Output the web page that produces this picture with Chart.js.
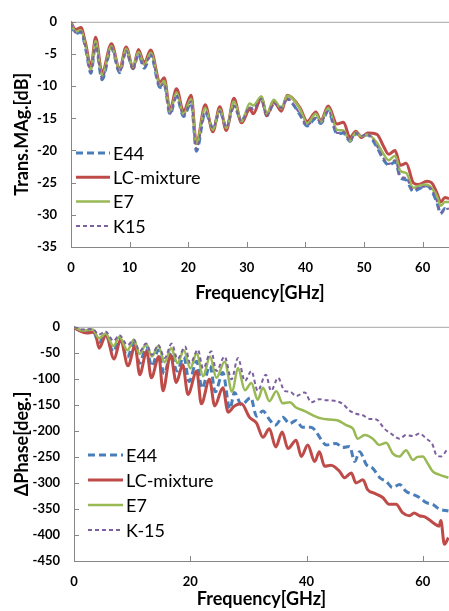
<!DOCTYPE html>
<html>
<head>
<meta charset="utf-8">
<script src="https://cdn.jsdelivr.net/npm/chart.js@4.4.1/dist/chart.umd.min.js"></script>
<style>
  body { margin: 0; background: #fff; }
  canvas { display: block; }
</style>
</head>
<body>
<canvas id="magChart" width="449" height="305"></canvas>
<canvas id="phaseChart" width="449" height="306"></canvas>
<script>
// ---- top panel: transmission magnitude [dB] ----
const freqMag = [0, 0.8, 1.7, 2.5, 3.4, 4.2, 5.3, 6.9, 8.3, 9.4,
  10.6, 11.5, 12.5, 13.6, 15.2, 15.9, 16.9, 18.0, 19.2, 20.5,
  21.4, 22.9, 24.2, 25.4, 26.5, 27.8, 29.1, 30.5, 31.1, 32.5,
  33.4, 34.6, 35.9, 36.9, 37.7, 39.1, 40.3, 41.8, 42.6, 43.9,
  45.4, 46.5, 47.6, 48.6, 49.6, 50.6, 52.2, 53.3, 54.2, 55.3,
  56.2, 57.2, 58.4, 59.3, 60.7, 61.5, 62.4, 63.1, 63.8, 64.5];

const magE44 = [-0.4, -1.8, -1.6, -4.2, -8.0, -3.6, -9.0, -4.1, -7.9, -4.6,
  -7.3, -5.1, -7.2, -5.2, -10.2, -9.8, -14.4, -11.6, -14.7, -12.6,
  -20.1, -14.1, -16.4, -14.0, -16.3, -13.2, -15.3, -13.4, -13.6, -12.1,
  -14.6, -12.8, -13.3, -12.0, -12.6, -14.5, -16.2, -15.0, -15.8, -13.9,
  -17.4, -17.3, -18.6, -17.4, -17.6, -17.6, -19.5, -21.4, -22.3, -21.8,
  -24.2, -24.6, -26.4, -26.0, -25.5, -26.2, -28.0, -29.8, -29.0, -29.3];
const magLC = [-0.1, -1.2, -0.9, -3.4, -7.0, -2.4, -7.9, -3.4, -7.4, -3.9,
  -7.2, -4.3, -6.4, -4.4, -9.4, -8.7, -13.7, -10.4, -13.9, -11.4,
  -18.9, -12.9, -17.1, -13.2, -16.9, -11.9, -15.7, -13.6, -14.3, -11.7,
  -14.6, -12.3, -13.9, -11.4, -11.8, -13.4, -15.5, -14.0, -15.4, -13.1,
  -15.9, -15.6, -18.0, -17.0, -18.0, -17.3, -17.5, -19.3, -20.6, -20.0,
  -22.3, -22.0, -25.0, -25.3, -24.8, -25.0, -26.5, -28.0, -27.3, -27.5];
const magE7 = [-0.2, -1.5, -1.3, -3.8, -7.5, -3.0, -8.3, -3.8, -7.5, -4.2,
  -7.0, -4.7, -6.7, -4.8, -9.8, -9.2, -14.0, -11.0, -14.4, -12.0,
  -19.0, -13.4, -16.8, -13.6, -16.5, -12.4, -15.5, -12.7, -13.0, -11.6,
  -14.3, -12.1, -13.5, -11.5, -11.8, -13.6, -15.8, -14.3, -15.6, -13.4,
  -16.8, -16.9, -18.5, -17.2, -17.8, -17.5, -18.8, -20.5, -21.5, -20.8,
  -23.2, -23.5, -25.8, -25.5, -25.3, -25.8, -27.0, -28.6, -28.0, -28.0];
const magK15 = [-0.3, -1.7, -1.5, -4.0, -7.8, -3.4, -8.8, -4.0, -7.8, -4.5,
  -7.2, -5.0, -7.0, -5.1, -10.1, -9.6, -14.3, -11.4, -14.6, -12.4,
  -19.8, -13.9, -16.5, -13.9, -16.4, -13.0, -15.4, -13.3, -13.6, -12.0,
  -14.6, -12.7, -13.4, -11.9, -12.5, -14.4, -16.1, -14.9, -15.7, -13.8,
  -17.3, -17.1, -18.5, -17.3, -17.7, -17.5, -19.3, -21.2, -22.1, -21.5,
  -24.0, -24.3, -26.2, -25.8, -25.6, -26.0, -27.8, -29.6, -29.2, -29.0];

const magXTicks = [0, 10, 20, 30, 40, 50, 60];
const magYTicks = [0, -5, -10, -15, -20, -25, -30, -35];
const magLabels = ['E44', 'LC-mixture', 'E7', 'K15'];

// ---- bottom panel: differential phase [deg.] ----
const freqE44 = [0, 1.5, 3.2, 4.3, 5.4, 6.8, 7.8, 9.2, 10.3, 11.3,
  12.4, 13.4, 14.5, 15.5, 16.7, 17.7, 18.9, 19.8, 21.1, 22.0,
  23.4, 24.3, 25.6, 26.8, 27.6, 28.8, 30.4, 31.4, 32.5, 33.6,
  34.6, 35.9, 37.1, 38.2, 39.3, 40.7, 41.5, 42.4, 43.4, 45.1,
  46.2, 47.4, 48.3, 49.1, 50.3, 51.4, 52.6, 53.7, 54.8, 56.0,
  57.1, 58.3, 59.4, 60.6, 61.7, 62.8, 64.4];
const phaseE44 = [-1, -9, -7, -30, -15, -48, -22, -58, -30, -70,
  -40, -76, -45, -90, -49, -85, -58, -105, -66, -118,
  -75, -125, -88, -158, -126, -150, -136, -172, -162, -178,
  -189, -174, -186, -180, -193, -193, -199, -215, -227, -224,
  -232, -230, -259, -240, -265, -272, -290, -297, -309, -303,
  -316, -322, -328, -338, -341, -350, -354];

const freqLC = [0, 2.2, 3.6, 4.3, 5.5, 6.9, 8.0, 9.3, 10.5, 11.3,
  12.5, 13.3, 14.6, 15.3, 16.6, 17.6, 18.7, 19.6, 21.1, 21.9,
  23.3, 24.2, 25.6, 26.5, 27.6, 28.8, 30.2, 31.4, 32.5, 33.6,
  34.7, 35.8, 36.8, 38.2, 39.1, 40.2, 41.4, 42.2, 43.1, 44.2,
  45.7, 46.5, 47.7, 48.5, 49.7, 50.5, 51.7, 53.1, 54.2, 55.4,
  56.5, 57.7, 58.5, 59.4, 60.5, 61.7, 62.8, 63.1, 63.7, 64.4];
const phaseLC = [-2, -12, -10, -41, -16, -62, -25, -75, -36, -92,
  -47, -98, -57, -123, -54, -107, -73, -130, -85, -148,
  -101, -152, -117, -164, -152, -148, -174, -185, -212, -196,
  -231, -202, -234, -218, -249, -227, -259, -240, -268, -266,
  -278, -290, -281, -300, -294, -313, -320, -328, -341, -341,
  -357, -363, -358, -363, -366, -376, -383, -372, -418, -405];

const freqE7 = [0, 1.5, 3.2, 4.3, 5.4, 6.8, 7.8, 9.2, 10.3, 11.3,
  12.4, 13.4, 14.5, 15.6, 16.7, 17.8, 18.9, 20.0, 21.1, 22.2,
  23.4, 24.5, 25.9, 27.2, 28.2, 29.4, 30.5, 31.6, 32.5, 33.6,
  34.8, 35.9, 37.1, 38.2, 39.7, 41.1, 42.5, 43.9, 45.4, 46.8,
  48.0, 48.8, 50.0, 51.4, 52.5, 53.7, 54.8, 56.0, 57.1, 58.3,
  59.1, 60.0, 60.8, 61.7, 62.8, 64.4];
const phaseE7 = [0, -7, -5, -22, -13, -37, -19, -45, -25, -52,
  -33, -57, -37, -68, -41, -70, -45, -80, -51, -95,
  -57, -98, -67, -125, -79, -122, -108, -140, -117, -143,
  -124, -147, -145, -155, -162, -170, -176, -178, -180, -189,
  -196, -215, -208, -215, -227, -223, -243, -249, -237, -256,
  -250, -249, -262, -278, -284, -290];

const freqK15 = [0, 1.5, 3.2, 4.3, 5.4, 6.8, 7.8, 9.2, 10.3, 11.3,
  12.4, 13.4, 14.5, 15.6, 16.8, 17.8, 19.1, 20.0, 21.3, 22.2,
  23.6, 24.5, 25.9, 27.1, 28.2, 29.4, 30.5, 31.6, 33.0, 33.9,
  35.1, 36.2, 37.2, 38.2, 39.7, 40.8, 42.2, 43.4, 44.8, 46.2,
  47.4, 48.5, 49.7, 50.8, 52.0, 53.4, 54.5, 56.0, 57.1, 58.3,
  59.4, 60.6, 61.7, 62.3, 63.1, 64.3];
const phaseK15 = [0, -5, -4, -15, -9, -27, -16, -35, -25, -47,
  -32, -54, -35, -60, -32, -62, -38, -70, -44, -80,
  -47, -85, -57, -101, -60, -104, -85, -123, -92, -123,
  -98, -123, -125, -133, -126, -145, -139, -141, -142, -148,
  -161, -167, -170, -177, -178, -196, -205, -215, -208, -210,
  -205, -215, -227, -246, -249, -234];

const phaseXTicks = [0, 20, 40, 60];
const phaseYTicks = [0, -50, -100, -150, -200, -250, -300, -350, -400, -450];
const phaseLabels = ['E44', 'LC-mixture', 'E7', 'K-15'];

// series look, same order as the legends
const looks = [
  { color: '#4A7EBB', width: 3, dash: [7, 4], order: 4 },
  { color: '#BE4B48', width: 3, dash: [], order: 3 },
  { color: '#98B954', width: 2.5, dash: [], order: 2 },
  { color: '#7D60A0', width: 2, dash: [4, 3], order: 1 }
];

const FONT = 'Lato';

function pts(xs, ys) {
  return xs.map((v, i) => ({ x: v, y: ys[i] }));
}

function makeSets(labels, series) {
  return series.map((s, i) => ({
    label: labels[i],
    data: pts(s[0], s[1]),
    borderColor: looks[i].color,
    borderWidth: looks[i].width,
    borderDash: looks[i].dash,
    order: looks[i].order,
    pointRadius: 0,
    cubicInterpolationMode: 'monotone',
    fill: false
  }));
}

// plot border on top, tick marks pointing inwards
const frame = {
  id: 'frame',
  beforeDatasetsDraw(chart) {
    const { ctx, chartArea: a, scales: { x, y } } = chart;
    ctx.save();
    ctx.strokeStyle = '#a6a6a6';
    ctx.lineWidth = 1;
    ctx.beginPath();
    ctx.moveTo(a.left, a.top + 0.5);
    ctx.lineTo(a.right, a.top + 0.5);
    ctx.stroke();
    ctx.strokeStyle = '#868686';
    ctx.beginPath();
    x.ticks.forEach(t => {
      if (t.value === 0) return;
      const px = Math.round(x.getPixelForValue(t.value)) + 0.5;
      ctx.moveTo(px, a.bottom);
      ctx.lineTo(px, a.bottom - 5);
    });
    y.ticks.forEach(t => {
      const py = Math.round(y.getPixelForValue(t.value)) + 0.5;
      ctx.moveTo(a.left, py);
      ctx.lineTo(a.left + 5, py);
    });
    ctx.stroke();
    ctx.restore();
  }
};

// legend drawn inside the plot, lower left
const insideLegend = {
  id: 'insideLegend',
  afterDraw(chart, args, opts) {
    const ctx = chart.ctx;
    ctx.save();
    ctx.font = '18px ' + FONT;
    ctx.fillStyle = '#000';
    ctx.textBaseline = 'middle';
    chart.data.datasets.forEach((ds, i) => {
      const yy = opts.y + i * opts.step;
      ctx.strokeStyle = ds.borderColor;
      ctx.lineWidth = ds.borderWidth;
      ctx.setLineDash(ds.borderDash || []);
      ctx.beginPath();
      ctx.moveTo(opts.x, yy);
      ctx.lineTo(opts.x + opts.w, yy);
      ctx.stroke();
      ctx.setLineDash([]);
      ctx.fillText(ds.label, opts.x + opts.w + 3, yy + 1);
    });
    ctx.restore();
  }
};

function makeChart(id, sets, cfg) {
  const tickFont = { family: FONT, size: 13, weight: 'bold' };
  const titleFont = { family: FONT, size: 18, weight: 'bold' };
  return new Chart(document.getElementById(id), {
    type: 'line',
    data: { datasets: sets },
    plugins: [frame, insideLegend],
    options: {
      responsive: false,
      animation: false,
      devicePixelRatio: 1,
      layout: { padding: { top: cfg.top, right: 0, bottom: 0, left: 0 } },
      plugins: {
        legend: { display: false },
        tooltip: { enabled: false },
        insideLegend: cfg.legend
      },
      scales: {
        x: {
          type: 'linear',
          min: 0,
          max: 64.5,
          afterBuildTicks: s => { s.ticks = cfg.xTicks.map(v => ({ value: v })); },
          afterFit: s => { s.height = cfg.xHeight; },
          grid: { display: false, drawTicks: false },
          border: { display: true, color: '#868686', width: 1 },
          ticks: { font: tickFont, color: '#000', padding: 13, maxRotation: 0, autoSkip: false },
          title: { display: true, text: 'Frequency[GHz]', font: titleFont, color: '#000', padding: { top: 0, bottom: 1 } }
        },
        y: {
          min: cfg.yTicks[cfg.yTicks.length - 1],
          max: 0,
          afterBuildTicks: s => { s.ticks = cfg.yTicks.map(v => ({ value: v })); },
          afterFit: s => { s.width = cfg.yWidth; },
          grid: { display: false, drawTicks: false },
          border: { display: true, color: '#868686', width: 1 },
          ticks: { font: tickFont, color: '#000', padding: 14, autoSkip: false },
          title: { display: true, text: cfg.yTitle, font: titleFont, color: '#000', padding: { top: 11, bottom: 0 } }
        }
      }
    }
  });
}

makeChart('magChart', makeSets(magLabels, [
  [freqMag, magE44], [freqMag, magLC], [freqMag, magE7], [freqMag, magK15]
]), {
  top: 14, xHeight: 58, yWidth: 71,
  xTicks: magXTicks, yTicks: magYTicks, yTitle: 'Trans.MAg.[dB]',
  legend: { x: 76, y: 153, w: 34, step: 24.3 }
});

makeChart('phaseChart', makeSets(phaseLabels, [
  [freqE44, phaseE44], [freqLC, phaseLC], [freqE7, phaseE7], [freqK15, phaseK15]
]), {
  top: 18, xHeight: 50, yWidth: 74,
  xTicks: phaseXTicks, yTicks: phaseYTicks, yTitle: 'ΔPhase[deg.]',
  legend: { x: 88, y: 150, w: 35, step: 25 }
});
</script>
</body>
</html>
